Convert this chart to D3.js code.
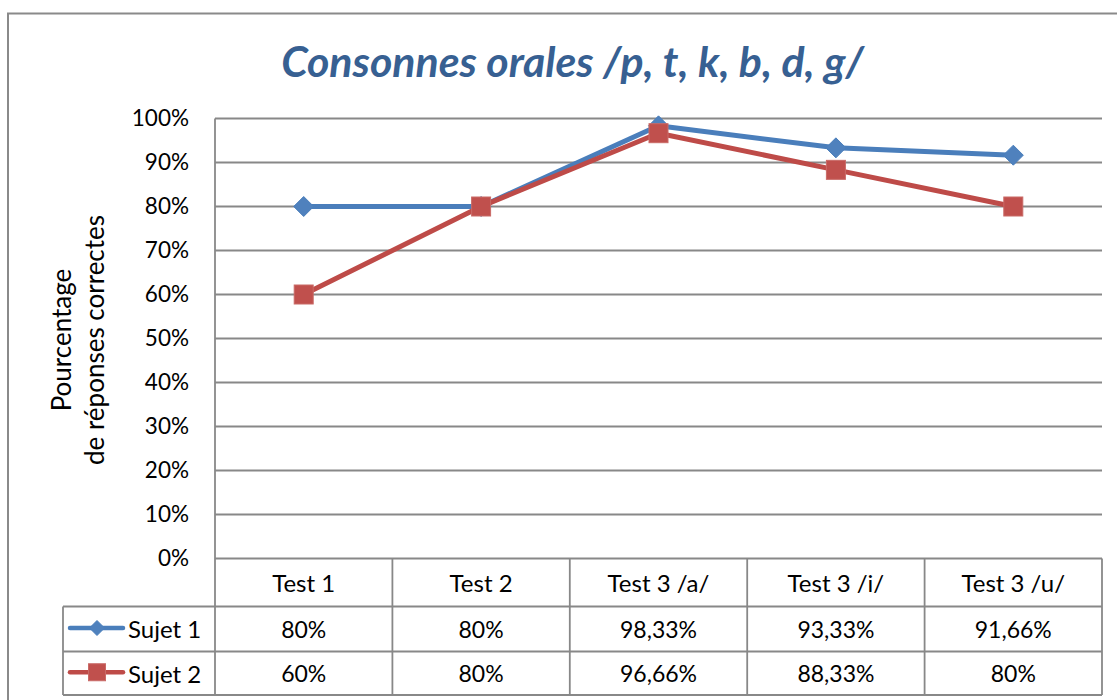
<!DOCTYPE html>
<html>
<head>
<meta charset="utf-8">
<script src="https://cdn.jsdelivr.net/npm/d3@7"></script>
<style>
  html, body { margin: 0; padding: 0; background: #fff; }
  svg { display: block; }
  text { font-family: Lato, "Noto Sans", sans-serif; fill: #000; }
</style>
</head>
<body>
<svg id="chart" width="1117" height="700"></svg>
<script>
const title = "Consonnes orales /p, t, k, b, d, g/";
const axisTitleLines = ["Pourcentage", "de réponses correctes"];
const categories = ["Test 1", "Test 2", "Test 3 /a/", "Test 3 /i/", "Test 3 /u/"];
const seriesNames = ["Sujet 1", "Sujet 2"];
const sujet1 = [80, 80, 98.33, 93.33, 91.66];
const sujet2 = [60, 80, 96.66, 88.33, 80];
const yTicks = [0, 10, 20, 30, 40, 50, 60, 70, 80, 90, 100];

const svg = d3.select("#chart");
const W = 1117, H = 700;
const plot = { left: 215, right: 1102, top: 118.5, bottom: 558.5 };
const rows = { cat: [558.5, 606.5], s1: [606.5, 651.5], s2: [651.5, 695] };
const legendLeft = 63;
const grid = "#888888";
const colors = [
  { line: "#4A7EBB", fill: "#4F81BD", stroke: "#4A7EBB" },
  { line: "#BE4B48", fill: "#C0504D", stroke: "#C96A67" }
];

// outer chart border
svg.append("path")
  .attr("d", `M8,${H + 5} L8,13.5 L${W + 5},13.5`)
  .attr("fill", "none").attr("stroke", "#8a8a8a").attr("stroke-width", 2);

const x = d3.scaleBand().domain(categories).range([plot.left, plot.right]).padding(0);
const y = d3.scaleLinear().domain([0, 100]).range([plot.bottom, plot.top]);
const cx = d => x(d) + x.bandwidth() / 2;

// gridlines
svg.append("g").selectAll("line").data(yTicks).join("line")
  .attr("x1", plot.left).attr("x2", plot.right)
  .attr("y1", d => y(d)).attr("y2", d => y(d))
  .attr("stroke", grid).attr("stroke-width", 1.8);

// y axis
const yAxis = d3.axisLeft(y).tickValues(yTicks).tickSize(0).tickPadding(0)
  .tickFormat(d => d + "%");
const gy = svg.append("g").attr("transform", `translate(189,0)`).call(yAxis);
gy.select(".domain").remove();
gy.selectAll("text").style("font-family", "Lato, sans-serif").style("font-size", "22.5px").attr("fill", "#000");

// axis title
const at = svg.append("text").attr("transform", "rotate(-90)")
  .attr("text-anchor", "middle").style("font-size", "26px");
axisTitleLines.forEach((t, i) => {
  at.append("tspan").attr("x", -340).attr("y", 71 + i * 33).text(t);
});

// title
const tt = svg.append("text").attr("x", 572.5).attr("y", 77)
  .attr("text-anchor", "middle")
  .style("font-size", "40px").style("font-weight", "bold").style("font-style", "italic")
  .attr("fill", "#376092").style("fill", "#376092").text(title);
const tw = tt.node().getComputedTextLength();
tt.style("font-size", (40 * 583 / tw) + "px");

// data table
const tbl = svg.append("g").attr("fill", "none").attr("stroke", grid).attr("stroke-width", 1.8);
tbl.append("line").attr("x1", plot.left).attr("x2", plot.left).attr("y1", plot.top).attr("y2", rows.s2[1]);
const edges = categories.map(c => x(c)).concat([plot.right]);
tbl.selectAll("line.col").data(edges.slice(1)).join("line").attr("class", "col")
  .attr("x1", d => d).attr("x2", d => d).attr("y1", rows.cat[0]).attr("y2", rows.s2[1]);
[rows.cat[1], rows.s1[1], rows.s2[1]].forEach(yy => {
  tbl.append("line").attr("x1", legendLeft).attr("x2", plot.right).attr("y1", yy).attr("y2", yy);
});
tbl.append("line").attr("x1", legendLeft).attr("x2", legendLeft).attr("y1", rows.cat[1]).attr("y2", rows.s2[1]);

// category labels
svg.append("g").selectAll("text").data(categories).join("text")
  .attr("x", d => cx(d)).attr("y", (rows.cat[0] + rows.cat[1]) / 2 + 1).attr("dy", "0.35em")
  .attr("text-anchor", "middle").style("font-size", "24px").text(d => d);

const fmt = v => (Number.isInteger(v) ? v : v.toFixed(2).replace(".", ",")) + "%";
const seriesData = [sujet1, sujet2];
const rowCenters = [(rows.s1[0] + rows.s1[1]) / 2, (rows.s2[0] + rows.s2[1]) / 2];

seriesData.forEach((vals, i) => {
  svg.append("g").selectAll("text").data(vals).join("text")
    .attr("x", (d, j) => cx(categories[j])).attr("y", rowCenters[i] + 1).attr("dy", "0.35em")
    .attr("text-anchor", "middle").style("font-size", "23px").text(d => fmt(d));
});

// lines
const line = d3.line().x((d, j) => cx(categories[j])).y(d => y(d));
seriesData.forEach((vals, i) => {
  svg.append("path").datum(vals).attr("d", line)
    .attr("fill", "none").attr("stroke", colors[i].line).attr("stroke-width", 5)
    .attr("stroke-linejoin", "round").attr("stroke-linecap", "round");
});

function marker(g, i, px, py, s) {
  if (i === 0) {
    g.append("path")
      .attr("d", `M${px},${py - s / 2} L${px + s / 2},${py} L${px},${py + s / 2} L${px - s / 2},${py} Z`)
      .attr("fill", colors[0].fill).attr("stroke", colors[0].stroke).attr("stroke-width", 1);
  } else {
    g.append("rect").attr("x", px - s / 2).attr("y", py - s / 2).attr("width", s).attr("height", s)
      .attr("fill", colors[1].fill).attr("stroke", colors[1].stroke).attr("stroke-width", 1);
  }
}

seriesData.forEach((vals, i) => {
  const g = svg.append("g");
  vals.forEach((v, j) => marker(g, i, cx(categories[j]), y(v), i === 0 ? 20 : 19));
});

// legend keys in table
seriesNames.forEach((name, i) => {
  const yy = rowCenters[i] - 1;
  svg.append("line").attr("x1", 70).attr("x2", 123).attr("y1", yy).attr("y2", yy)
    .attr("stroke", colors[i].line).attr("stroke-width", 4.5).attr("stroke-linecap", "round");
  marker(svg, i, 97, yy, i === 0 ? 15 : 17);
  svg.append("text").attr("x", 128).attr("y", rowCenters[i] + 1).attr("dy", "0.35em")
    .style("font-size", "24px").text(name);
});
</script>
</body>
</html>
